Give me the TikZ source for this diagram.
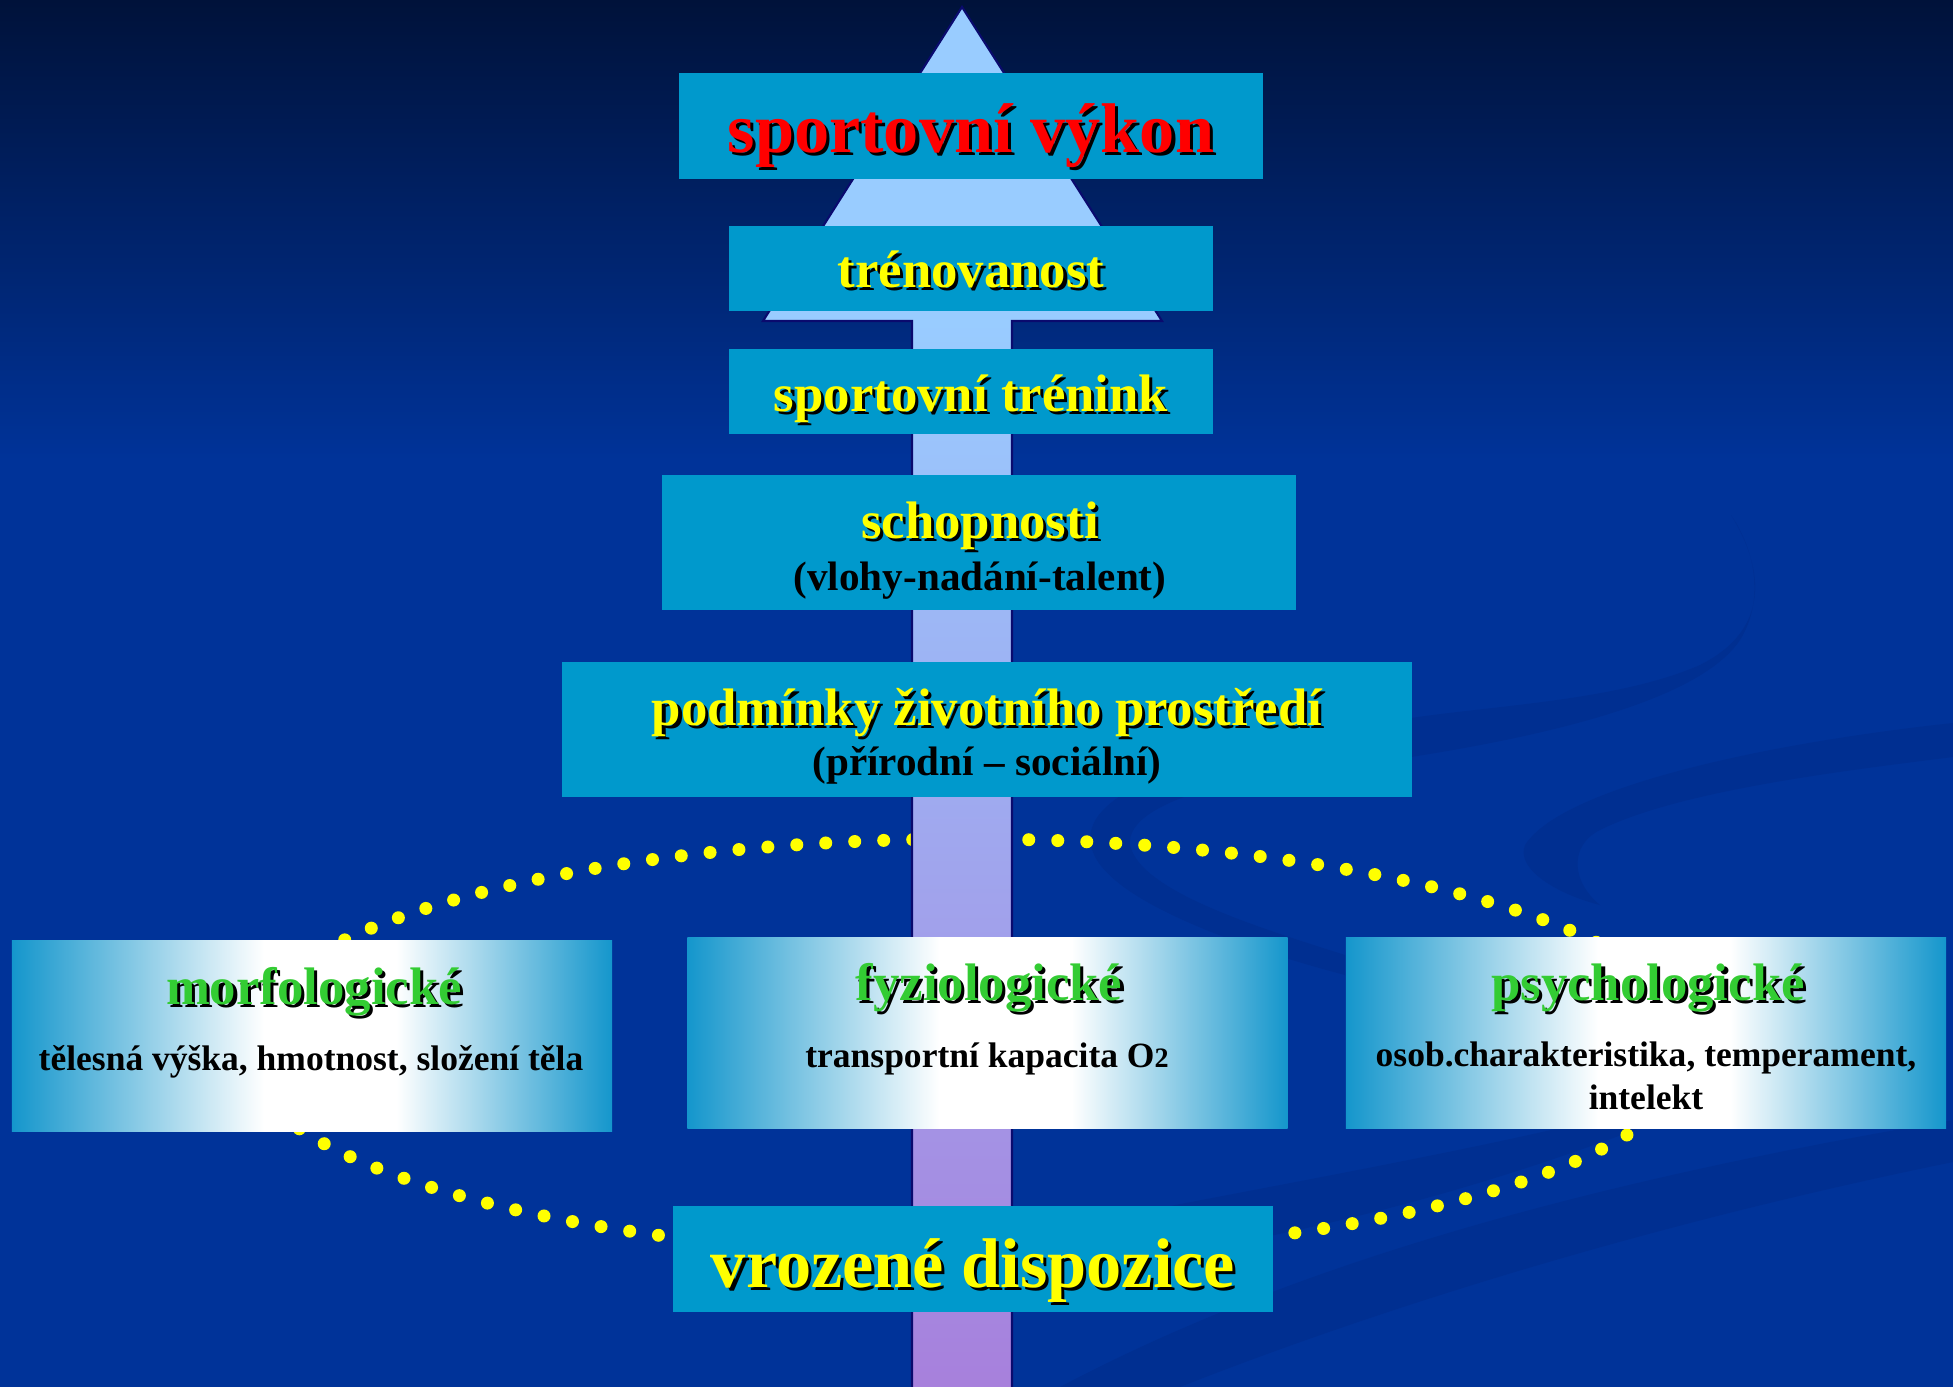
\documentclass[tikz,border=0pt]{standalone}
\usepackage{fontspec}
\setmainfont{Liberation Serif}
\usetikzlibrary{positioning}
\definecolor{bgtop}{RGB}{0,18,58}
\definecolor{bgblue}{RGB}{0,51,153}
\definecolor{swoosh}{RGB}{0,47,145}
\definecolor{boxcyan}{RGB}{0,153,204}
\definecolor{gedge}{RGB}{20,150,204}
\definecolor{arrowtop}{RGB}{153,204,255}
\definecolor{arrowbot}{RGB}{167,128,220}
\definecolor{arrowline}{RGB}{10,10,110}
\definecolor{dotyellow}{RGB}{255,255,0}
\definecolor{txtred}{RGB}{255,0,0}
\definecolor{txtyellow}{RGB}{255,255,0}
\definecolor{txtgreen}{RGB}{51,204,51}
\pgfdeclarehorizontalshading{gfade}{100bp}{color(0bp)=(gedge); color(25bp)=(gedge); color(46bp)=(white); color(57bp)=(white); color(75bp)=(gedge); color(100bp)=(gedge)}
\newcommand{\shtext}[2]{\makebox[0pt][l]{\hspace{0.9pt}\raisebox{-0.9pt}{\color{black}#2}}\textcolor{#1}{#2}}
\newcommand{\Otwo}{O{\fontsize{8}{8}\selectfont 2}}

\begin{document}
\begin{tikzpicture}[x=0.01cm, y=-0.01cm,
    box/.style={rectangle, fill=boxcyan, inner sep=0pt},
    fadebox/.style={rectangle, shade, shading=gfade, inner sep=0pt, minimum width=6cm, minimum height=1.9cm},
    txtbig/.style={anchor=base, inner sep=0pt, font=\fontsize{20}{24}\selectfont\bfseries},
    txtmid/.style={anchor=base, inner sep=0pt, font=\fontsize{15}{18}\selectfont\bfseries},
    txtsub/.style={anchor=base, inner sep=0pt, font=\fontsize{11.7}{14}\selectfont\bfseries},
    txtsmall/.style={anchor=base, inner sep=0pt, font=\fontsize{10.1}{12}\selectfont\bfseries},
    dotline/.style={dotyellow, line width=0.13cm, line cap=round, dash pattern=on 0pt off 0.29cm}]

  % background
  \fill[bgblue] (0,0) rectangle (1953,1387);
  \shade[top color=bgtop, bottom color=bgblue] (0,0) rectangle (1953,460);
  \useasboundingbox (0,0) rectangle (1953,1387);

  % faint swooshes
  \fill[swoosh] (1953,723) .. controls (1750,745) and (1560,790) .. (1525,845)
    .. controls (1515,870) and (1560,895) .. (1600,905)
    .. controls (1570,880) and (1570,845) .. (1600,830)
    .. controls (1680,790) and (1850,770) .. (1953,757) -- cycle;
  \fill[swoosh] (1731,515) .. controls (1765,570) and (1770,630) .. (1700,665)
    .. controls (1620,700) and (1500,705) .. (1411,718)
    .. controls (1200,750) and (1080,790) .. (1091,845)
    .. controls (1100,900) and (1250,950) .. (1345,975) -- (1345,955)
    .. controls (1250,925) and (1140,890) .. (1130,845)
    .. controls (1125,800) and (1250,770) .. (1411,757)
    .. controls (1550,735) and (1700,700) .. (1740,640)
    .. controls (1765,600) and (1755,550) .. (1731,515) -- cycle;
  \fill[swoosh] (1060,1387) .. controls (1300,1260) and (1600,1180) .. (1953,1120)
    -- (1953,1162) .. controls (1620,1230) and (1350,1320) .. (1180,1387) -- cycle;
  \fill[swoosh] (1020,1235) .. controls (1250,1190) and (1420,1160) .. (1560,1128)
    -- (1640,1128) .. controls (1450,1200) and (1250,1250) .. (1020,1275) -- cycle;

  % dotted ring
  \draw[dotline] (968,1047) ellipse [x radius=727, y radius=208];

  % arrow
  \fill[arrowtop] (763,321) -- (962,7) -- (1162,321) -- cycle;
  \shade[top color=arrowtop, bottom color=arrowbot] (912,321) rectangle (1012,1387);
  \draw[arrowline, line width=0.6pt] (912,1387) -- (912,321) -- (763,321) -- (962,7)
    -- (1162,321) -- (1012,321) -- (1012,1387);

  % boxes
  \node[box, minimum width=5.84cm, minimum height=1.06cm] (vykon) at (971,126) {};
  \node[box, minimum width=4.84cm, minimum height=0.85cm] (trenovanost) at (971,268.5) {};
  \node[box, minimum width=4.84cm, minimum height=0.85cm] (trenink) at (971,391.5) {};
  \node[box, minimum width=6.34cm, minimum height=1.35cm] (schopnosti) at (979,542.5) {};
  \node[box, minimum width=8.5cm, minimum height=1.35cm] (podminky) at (987,729.5) {};
  \node[fadebox] (morf) at (312,1036) {};
  \node[fadebox] (fyzio) at (987.5,1033) {};
  \node[fadebox] (psycho) at (1646,1033) {};
  \node[box, minimum width=6cm, minimum height=1.06cm] (vrozene) at (973,1259) {};

  % texts
  \node[txtbig] (vykonT) at (971,152) {\shtext{txtred}{sportovní výkon}};
  \node[txtmid] (trenovanostT) at (971,287) {\shtext{txtyellow}{trénovanost}};
  \node[txtmid] (treninkT) at (971,411) {\shtext{txtyellow}{sportovní trénink}};
  \node[txtmid] (schopnostiT) at (980,538) {\shtext{txtyellow}{schopnosti}};
  \node[txtsub] (schopnostiS) at (980,590) {(vlohy-nadání-talent)};
  \node[txtmid] (podminkyT) at (987,725) {\shtext{txtyellow}{podmínky životního prostředí}};
  \node[txtsub] (podminkyS) at (987,775) {(přírodní – sociální)};
  \node[txtmid] (morfT) at (314,1004) {\shtext{txtgreen}{morfologické}};
  \node[txtsmall] (morfS) at (311,1070) {tělesná výška, hmotnost, složení těla};
  \node[txtmid] (fyzioT) at (989,1000) {\shtext{txtgreen}{fyziologické}};
  \node[txtsmall] (fyzioS) at (987,1067) {transportní kapacita \Otwo};
  \node[txtmid] (psychoT) at (1648,1000) {\shtext{txtgreen}{psychologické}};
  \node[txtsmall] (psychoS) at (1646,1066) {osob.charakteristika, temperament,};
  \node[txtsmall] (psychoU) at (1646,1109) {intelekt};
  \node[txtbig] (vrozeneT) at (973,1287) {\shtext{txtyellow}{vrozené dispozice}};
\end{tikzpicture}
\end{document}
